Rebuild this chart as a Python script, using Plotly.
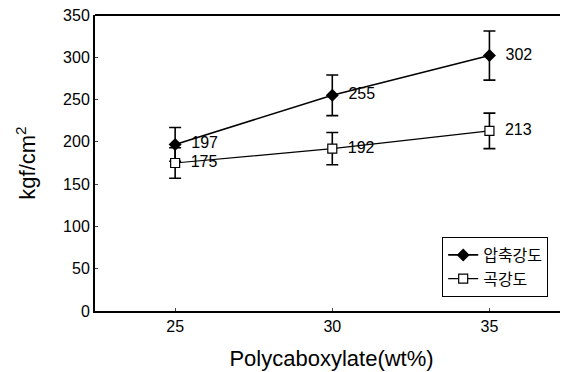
import plotly.graph_objects as go

x_vals = [25, 30, 35]
comp_strength = [197, 255, 302]
comp_err = [20, 24, 29]
flex_strength = [175, 192, 213]
flex_err = [18, 19, 21]
series_names = ["압축강도", "곡강도"]
y_ticks = [0, 50, 100, 150, 200, 250, 300, 350]
x_ticks = [25, 30, 35]

fig = go.Figure()
fig.add_trace(go.Scatter(
    x=x_vals, y=comp_strength, name=series_names[0],
    mode="lines+markers+text",
    text=["  " + str(v) for v in comp_strength], textposition="middle right",
    textfont=dict(family="Liberation Sans, Arial", size=16, color="black"),
    line=dict(color="black", width=1.6),
    marker=dict(symbol="diamond", size=10, color="black"),
    error_y=dict(type="data", array=comp_err, color="black", thickness=1.6, width=6),
))
fig.add_trace(go.Scatter(
    x=x_vals, y=flex_strength, name=series_names[1],
    mode="lines+markers+text",
    text=["  " + str(v) for v in flex_strength], textposition="middle right",
    textfont=dict(family="Liberation Sans, Arial", size=16, color="black"),
    line=dict(color="black", width=1.2),
    marker=dict(symbol="square", size=9, color="white", line=dict(color="black", width=1.2)),
    error_y=dict(type="data", array=flex_err, color="black", thickness=1.6, width=6),
))

fig.update_layout(
    width=568, height=372,
    margin=dict(l=87, r=8, t=7, b=69, autoexpand=False),
    paper_bgcolor="white", plot_bgcolor="white",
    font=dict(family="Liberation Sans, Arial", size=16, color="black"),
    showlegend=True,
    legend=dict(x=0.734, y=0.25, xanchor="left", yanchor="top",
                bordercolor="black", borderwidth=1, bgcolor="white",
                font=dict(family="Noto Sans CJK KR", size=16),
                tracegroupgap=0),
    xaxis=dict(range=[22.45, 37.5], tickvals=x_ticks, ticks="inside", ticklen=3,
               showline=True, linecolor="black", linewidth=2, mirror=False,
               showgrid=False, zeroline=False, automargin=False,
               tickfont=dict(size=16), ticklabeloverflow="allow",
               title=dict(text="Polycaboxylate(wt%)", font=dict(size=22), standoff=16)),
    yaxis=dict(range=[0, 350], tickvals=y_ticks, ticks="inside", ticklen=3,
               showline=True, linecolor="black", linewidth=2,
               showgrid=False, zeroline=False, automargin=False,
               tickfont=dict(size=16), ticklabeloverflow="allow",
               title=dict(text="kgf/cm<sup>2</sup>", font=dict(size=22), standoff=21)),
    shapes=[dict(type="line", xref="paper", yref="paper", x0=0, x1=1, y0=1, y1=1,
                 line=dict(color="black", width=2))],
)

fig.write_html("out.html")
